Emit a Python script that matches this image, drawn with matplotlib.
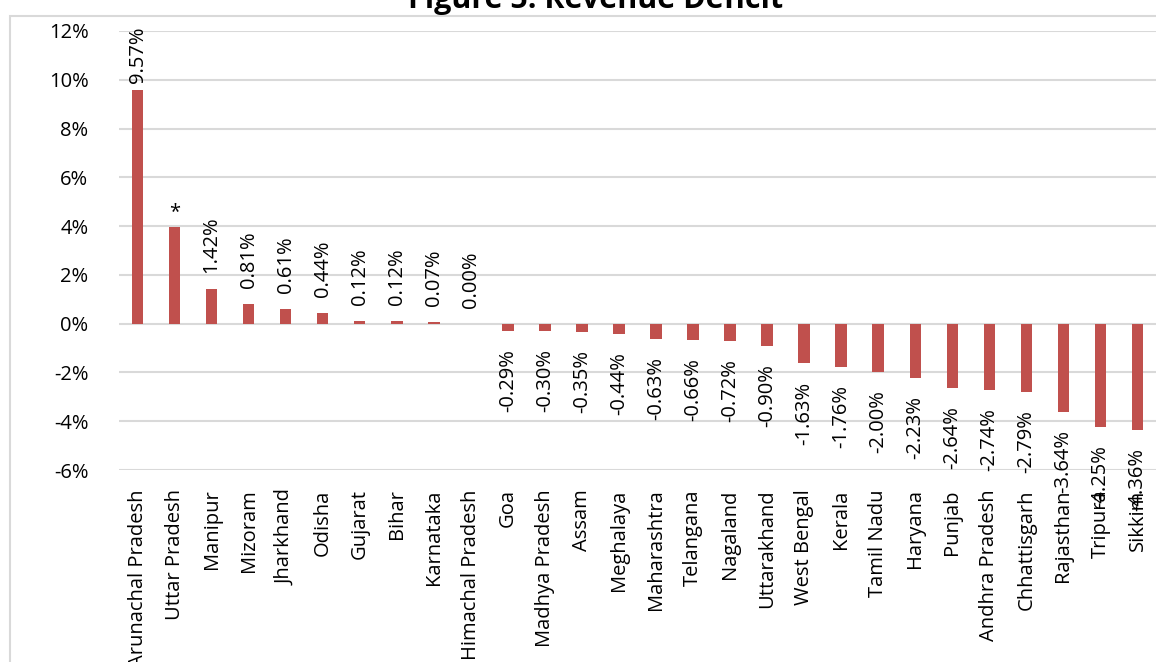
import matplotlib
matplotlib.use("Agg")
import matplotlib.pyplot as plt
from matplotlib.patches import Rectangle

plt.rcParams['font.family'] = ['Open Sans', 'DejaVu Sans']

states = ["Arunachal Pradesh", "Uttar Pradesh", "Manipur", "Mizoram", "Jharkhand",
          "Odisha", "Gujarat", "Bihar", "Karnataka", "Himachal Pradesh", "Goa",
          "Madhya Pradesh", "Assam", "Meghalaya", "Maharashtra", "Telangana",
          "Nagaland", "Uttarakhand", "West Bengal", "Kerala", "Tamil Nadu",
          "Haryana", "Punjab", "Andhra Pradesh", "Chhattisgarh", "Rajasthan",
          "Tripura", "Sikkim"]
deficit = [9.57, 3.95, 1.42, 0.81, 0.61, 0.44, 0.12, 0.12, 0.07, 0.00, -0.29,
           -0.30, -0.35, -0.44, -0.63, -0.66, -0.72, -0.90, -1.63, -1.76, -2.00,
           -2.23, -2.64, -2.74, -2.79, -3.64, -4.25, -4.36]
# Uttar Pradesh is shown with an asterisk instead of a value
labels = ["%.2f%%" % v for v in deficit]
labels[1] = "*"

bar_color = "#C0504D"
grid_color = "#D9D9D9"
fs = 14.5

fig = plt.figure(figsize=(11.56, 6.62), dpi=100)
ax = fig.add_axes([119 / 1156, 1 - 470 / 662, 1 - 119 / 1156, (470 - 31) / 662])

# outer chart frame
fig.patches.append(Rectangle((10 / 1156, -0.1), 1.2, 1 - 16 / 662 + 0.1,
                             transform=fig.transFigure, fill=False,
                             edgecolor=grid_color, linewidth=1.5))

x = list(range(len(states)))
ax.bar(x, deficit, width=0.31, color=bar_color, zorder=3)

for i, v in enumerate(deficit):
    if labels[i] == "*":
        ax.annotate("*", (i, v), xytext=(0, 4), textcoords="offset points",
                    ha="center", va="bottom", fontsize=fs)
    elif v >= 0:
        # the tallest label gets pushed down to stay inside the plot
        off = 5 if v > 9 else 11.5
        ax.annotate(labels[i], (i, v), xytext=(0, off), textcoords="offset points",
                    ha="center", va="bottom", rotation=90, fontsize=fs)
    else:
        ax.annotate(labels[i], (i, v), xytext=(0, -13), textcoords="offset points",
                    ha="center", va="top", rotation=90, fontsize=fs)

ax.set_xlim(-0.5, len(states) - 0.5)
ax.set_ylim(-6, 12)
ax.set_yticks(range(-6, 13, 2))
ax.set_yticklabels(["%d%%" % t for t in range(-6, 13, 2)], fontsize=fs)
ax.set_xticks(x)
ax.set_xticklabels(states, rotation=90, fontsize=fs)
ax.tick_params(axis="y", length=0, pad=22)
ax.tick_params(axis="x", length=0, pad=14)
ax.grid(axis="y", color=grid_color, linewidth=1.5, zorder=0)
for s in ax.spines.values():
    s.set_visible(False)

fig.text(0.515, 1 - 8 / 662, "Figure 5: Revenue Deficit", ha="center",
         va="baseline", fontsize=22, fontweight="bold")

fig.savefig("out.png", dpi=100)
